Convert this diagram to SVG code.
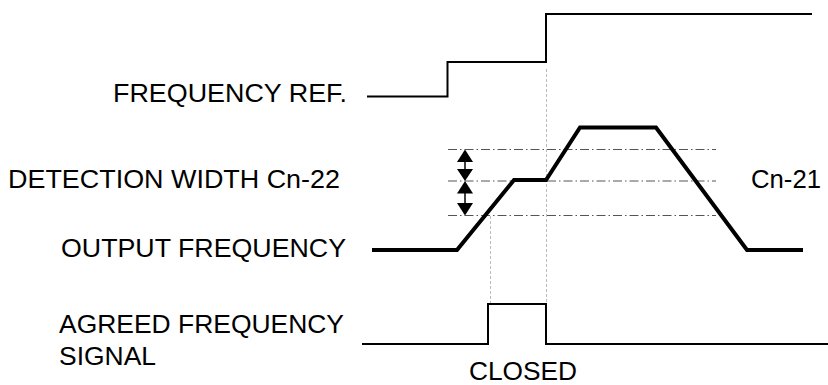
<svg xmlns="http://www.w3.org/2000/svg" width="828" height="385" viewBox="0 0 828 385">
<style>
text{font-family:"Liberation Sans",Arial,sans-serif;font-size:25px;fill:#000}
.sig{fill:none;stroke:#000;stroke-width:2;stroke-linejoin:miter}
.out{fill:none;stroke:#000;stroke-width:4;stroke-linejoin:miter}
.lvl{fill:none;stroke:#555;stroke-width:1;stroke-dasharray:9 3 1.5 3}
.guide{fill:none;stroke:#bbb;stroke-width:1;stroke-dasharray:3 2}
.dim{fill:none;stroke:#000;stroke-width:1.5}
.head{fill:#000}
</style>
<rect width="828" height="385" fill="#fff"/>
<g id="connectors">
<line class="guide" x1="546.5" y1="69" x2="546.5" y2="304"/>
<line class="guide" x1="490.5" y1="216" x2="490.5" y2="304"/>
<line class="lvl" x1="448" y1="149.5" x2="716" y2="149.5"/>
<line class="lvl" x1="448" y1="181" x2="716" y2="181"/>
<line class="lvl" x1="448" y1="215.5" x2="716" y2="215.5"/>
</g>
<g id="freq-ref">
<polyline class="sig" points="367,96.5 447.5,96.5 447.5,62 546,62 546,14 812,14"/>
<text x="113" y="102" textLength="234" lengthAdjust="spacingAndGlyphs">FREQUENCY REF.</text>
</g>
<g id="detection-width">
<line class="dim" x1="465" y1="158" x2="465" y2="172"/>
<polygon class="head" points="465,149.5 457,162 473,162"/>
<polygon class="head" points="465,181 457,169 473,169"/>
<line class="dim" x1="465" y1="190" x2="465" y2="206"/>
<polygon class="head" points="465,181 457,193.5 473,193.5"/>
<polygon class="head" points="465,215.5 457,203 473,203"/>
<text x="8" y="188" textLength="332" lengthAdjust="spacingAndGlyphs">DETECTION WIDTH Cn-22</text>
</g>
<g id="cn21">
<text x="751" y="188" textLength="70" lengthAdjust="spacingAndGlyphs">Cn-21</text>
</g>
<g id="output-frequency">
<polyline class="out" points="372,250 457,250 514,180 546,180 580,127.5 656,127.5 747,250 803,250"/>
<text x="61" y="257" textLength="285" lengthAdjust="spacingAndGlyphs">OUTPUT FREQUENCY</text>
</g>
<g id="agreed-signal">
<polyline class="sig" points="362,344 488,344 488,304 546,304 546,344 828,344"/>
<text x="59" y="333" textLength="285" lengthAdjust="spacingAndGlyphs">AGREED FREQUENCY</text>
<text x="59" y="365" textLength="97" lengthAdjust="spacingAndGlyphs">SIGNAL</text>
</g>
<g id="closed">
<text x="469" y="380" font-size="24" textLength="108" lengthAdjust="spacingAndGlyphs">CLOSED</text>
</g>
</svg>
